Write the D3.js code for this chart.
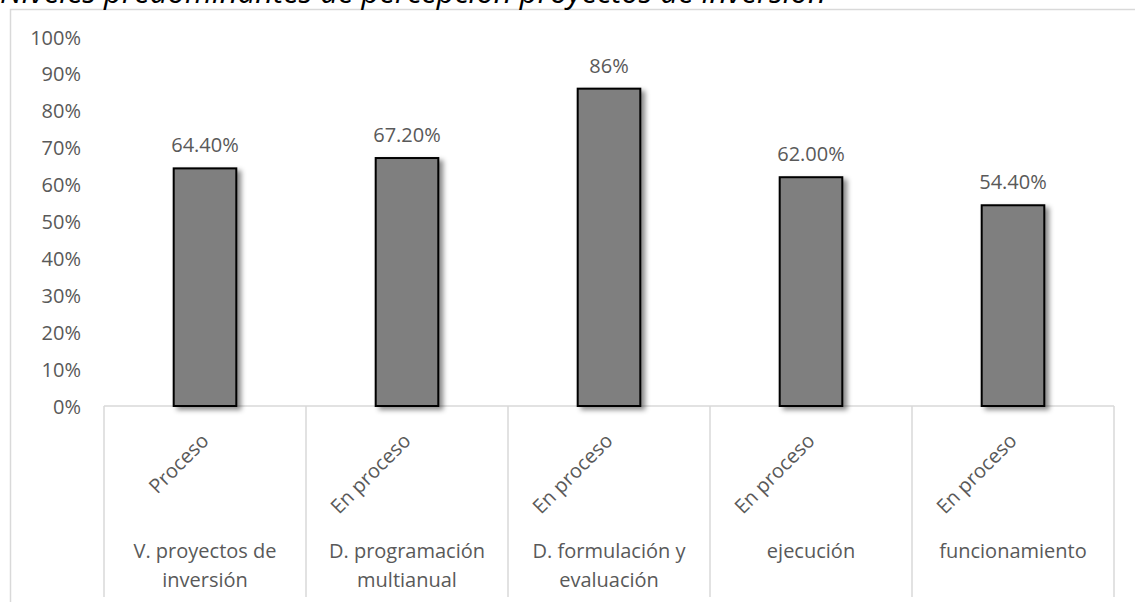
<!DOCTYPE html>
<html><head><meta charset="utf-8">
<script src="https://cdn.jsdelivr.net/npm/d3@7"></script>
<style>html,body{margin:0;padding:0;background:#fff;overflow:hidden}</style>
</head><body>
<svg id="chart" width="1135" height="602"></svg>
<script>
const titleText = "Niveles predominantes de percepción proyectos de inversión";
const categories = ["V. proyectos de inversión", "D. programación multianual", "D. formulación y evaluación", "ejecución", "funcionamiento"];
const categoryLines = [["V. proyectos de", "inversión"], ["D. programación", "multianual"], ["D. formulación y", "evaluación"], ["ejecución"], ["funcionamiento"]];
const levels = ["Proceso", "En proceso", "En proceso", "En proceso", "En proceso"];
const values = [0.644, 0.672, 0.86, 0.62, 0.544];
const valueLabels = ["64.40%", "67.20%", "86%", "62.00%", "54.40%"];
const yTicks = [0, 0.1, 0.2, 0.3, 0.4, 0.5, 0.6, 0.7, 0.8, 0.9, 1.0];

const svg = d3.select("#chart");
const font = "'Open Sans', sans-serif";
const textColor = "#595959";
const lineColor = "#d9d9d9";

const defs = svg.append("defs");
const f = defs.append("filter").attr("id", "shadow").attr("x", "-30%").attr("y", "-10%").attr("width", "160%").attr("height", "130%");
f.append("feDropShadow").attr("dx", 4).attr("dy", 3).attr("stdDeviation", 2.5).attr("flood-color", "#000").attr("flood-opacity", 0.45);

// chart frame
svg.append("rect").attr("x", 10.5).attr("y", 9.5).attr("width", 1140).attr("height", 600)
  .attr("fill", "#fff").attr("stroke", lineColor).attr("stroke-width", 1.5);

// title (partly cut off at the top, as in the reference)
svg.append("text").attr("x", 0).attr("y", 3).attr("font-family", font).attr("font-style", "italic")
  .attr("font-size", 31).attr("fill", "#000").text(titleText);

const x = d3.scaleBand().domain(categories).range([104, 1114]).padding(0);
const y = d3.scaleLinear().domain([0, 1]).range([406, 37]);

// y axis labels
const yAxis = d3.axisLeft(y).tickValues(yTicks).tickFormat(d3.format(".0%")).tickSize(0).tickPadding(0);
const gy = svg.append("g").attr("transform", "translate(81,0)").call(yAxis);
gy.select(".domain").remove();
gy.selectAll("text").attr("font-family", font).attr("font-size", 20).attr("fill", textColor).attr("dy", "0.35em");

// category axis table lines
const gx = svg.append("g");
gx.append("line").attr("x1", x.range()[0]).attr("x2", x.range()[1]).attr("y1", y(0)).attr("y2", y(0))
  .attr("stroke", lineColor).attr("stroke-width", 1.5);
const edges = categories.map(c => x(c)).concat([x.range()[1]]);
gx.selectAll("line.sep").data(edges).enter().append("line").attr("class", "sep")
  .attr("x1", d => d).attr("x2", d => d).attr("y1", y(0)).attr("y2", 597)
  .attr("stroke", lineColor).attr("stroke-width", 1.5);

// bars
const bw = x.bandwidth() * 0.31;
svg.append("g").selectAll("rect").data(values).enter().append("rect")
  .attr("x", (d, i) => x(categories[i]) + x.bandwidth() / 2 - bw / 2)
  .attr("y", d => y(d))
  .attr("width", bw)
  .attr("height", d => y(0) - y(d))
  .attr("fill", "#7f7f7f").attr("stroke", "#000").attr("stroke-width", 2)
  .attr("filter", "url(#shadow)");

// value labels
svg.append("g").selectAll("text").data(values).enter().append("text")
  .attr("x", (d, i) => x(categories[i]) + x.bandwidth() / 2)
  .attr("y", d => y(d) - 16)
  .attr("text-anchor", "middle").attr("font-family", font).attr("font-size", 20).attr("fill", textColor)
  .text((d, i) => valueLabels[i]);

// rotated level labels
svg.append("g").selectAll("text").data(levels).enter().append("text")
  .attr("transform", (d, i) => `translate(${x(categories[i]) + x.bandwidth() / 2 + 5},${y(0) + 36}) rotate(-45)`)
  .attr("text-anchor", "end").attr("font-family", font).attr("font-size", 20).attr("fill", textColor)
  .text(d => d);

// category labels
const cl = svg.append("g").selectAll("text").data(categories).enter().append("text")
  .attr("x", d => x(d) + x.bandwidth() / 2)
  .attr("y", 558)
  .attr("text-anchor", "middle").attr("font-family", font).attr("font-size", 20).attr("fill", textColor);
cl.each(function (d, i) {
  d3.select(this).selectAll("tspan").data(categoryLines[i]).enter().append("tspan")
    .attr("x", x(d) + x.bandwidth() / 2).attr("dy", (t, j) => j === 0 ? 0 : 29).text(t => t);
});
</script>
</body></html>
